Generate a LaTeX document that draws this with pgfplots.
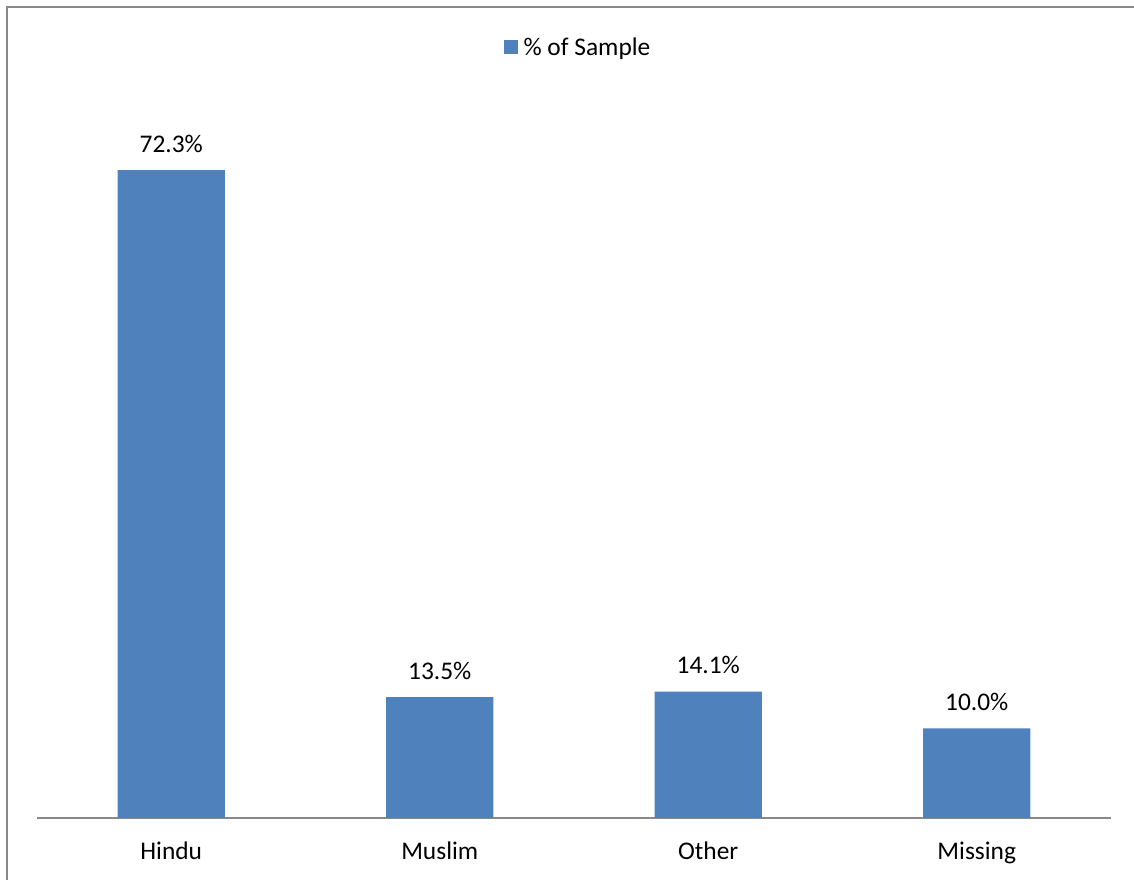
\documentclass[border=0pt]{standalone}
\usepackage{pgfplots}
\pgfplotsset{compat=1.18}
\usepackage{fontspec}
\setmainfont{Carlito}
\definecolor{barblue}{HTML}{4F81BD}
\definecolor{axgray}{HTML}{898989}
\begin{document}
\begin{tikzpicture}[x=1bp,y=1bp]
\path[use as bounding box] (0,0) rectangle (1134,880);
\draw[axgray, line width=2bp] (7,-10) -- (7,873) -- (1150,873);
\begin{axis}[
  at={(37bp,62bp)}, anchor=south west,
  scale only axis, width=1074bp, height=758bp,
  xmin=-0.5, xmax=3.5, ymin=0, ymax=84.6,
  axis x line*=bottom, axis y line=none,
  x axis line style={axgray, line width=1.5bp, -},
  xtick=data, xticklabels={Hindu,Muslim,Other,Missing},
  major tick length=0pt,
  xticklabel style={anchor=base, yshift=-42bp, inner sep=0pt},
  ytick=\empty,
  /pgf/number format/assume math mode=true,
  font=\fontsize{25.5}{30}\selectfont,
  ybar, bar width=107bp,
  nodes near coords={\pgfmathprintnumber[fixed,fixed zerofill,precision=1,assume math mode=true]{\pgfplotspointmeta}\%},
  every node near coord/.append style={anchor=base, yshift=18bp, inner sep=0pt},
  legend style={at={(0.5037,1.017)}, anchor=center, draw=none, fill=none,
    legend columns=1, font=\fontsize{25.5}{30}\selectfont, inner sep=0pt,
    /tikz/every even column/.style={column sep=0pt}},
  legend image code/.code={\fill[barblue] (0bp,-7bp) rectangle (14bp,7bp); \path (18bp,0bp);},
  clip=false,
]
\addplot[fill=barblue, draw=none] coordinates {(0,72.3) (1,13.5) (2,14.1) (3,10.0)};
\addlegendentry{\% of Sample}
\end{axis}
\end{tikzpicture}
\end{document}
